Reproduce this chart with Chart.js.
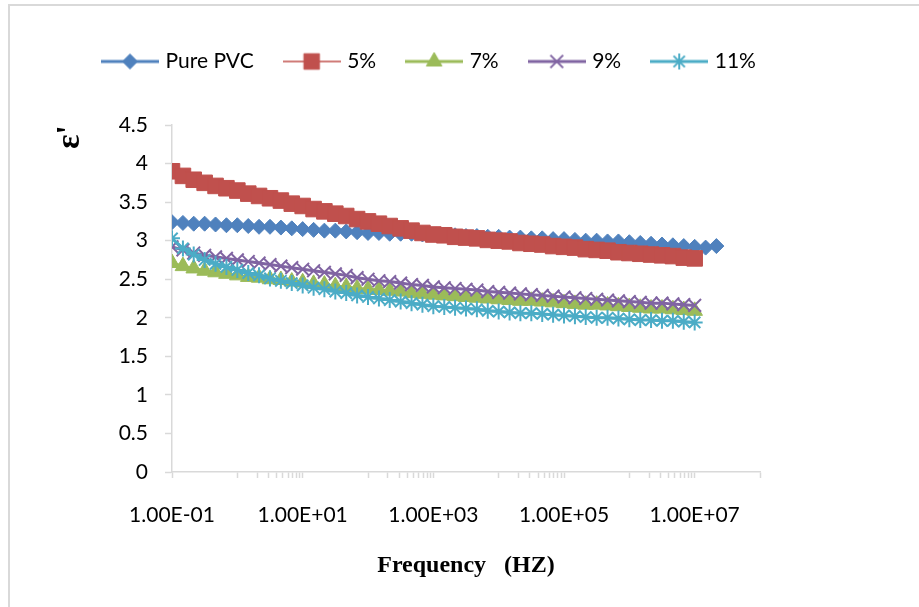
<!DOCTYPE html>
<html>
<head>
<meta charset="utf-8">
<title>Dielectric constant vs frequency</title>
<script src="https://cdn.jsdelivr.net/npm/chart.js@4.4.1/dist/chart.umd.min.js"></script>
<style>
  html, body { margin: 0; padding: 0; background: #fff; }
  #wrap { position: relative; width: 919px; height: 607px; overflow: hidden; }
  #frame { position: absolute; left: 8px; top: 4px; width: 1000px; height: 700px; border: 2px solid #d9d9d9; box-sizing: border-box; }
  #chart { position: absolute; left: 0; top: 0; }
</style>
</head>
<body>
<div id="wrap">
  <div id="frame"></div>
  <canvas id="chart" width="919" height="607"></canvas>
</div>
<script>
// frequencies (Hz)
const freqHz = [
  0.1, 0.147, 0.215, 0.316, 0.464, 0.681,
  1, 1.47, 2.15, 3.16, 4.64, 6.81,
  10, 14.7, 21.5, 31.6, 46.4, 68.1,
  100, 147, 215, 316, 464, 681,
  1000, 1470, 2150, 3160, 4640, 6810,
  10000, 14700, 21500, 31600, 46400, 68100,
  100000, 147000, 215000, 316000, 464000, 681000,
  1000000, 1470000, 2150000, 3160000, 4640000, 6810000,
  10000000, 14700000, 21500000
];

const purePvc = [
  3.24, 3.23, 3.22, 3.22, 3.21, 3.20,
  3.20, 3.19, 3.18, 3.18, 3.17, 3.16,
  3.15, 3.14, 3.13, 3.13, 3.12, 3.11,
  3.10, 3.10, 3.09, 3.09, 3.09, 3.08,
  3.08, 3.07, 3.07, 3.06, 3.06, 3.05,
  3.05, 3.04, 3.04, 3.03, 3.03, 3.02,
  3.02, 3.01, 3.00, 3.00, 2.99, 2.99,
  2.98, 2.97, 2.96, 2.95, 2.94, 2.93,
  2.92, 2.91, 2.93
];
const pvc5 = [
  3.90, 3.84, 3.79, 3.75, 3.71, 3.68,
  3.65, 3.61, 3.58, 3.55, 3.52, 3.48,
  3.45, 3.41, 3.38, 3.35, 3.32, 3.28,
  3.25, 3.22, 3.19, 3.16, 3.13, 3.10,
  3.08, 3.07, 3.05, 3.04, 3.03, 3.01,
  3.00, 2.99, 2.97, 2.96, 2.95, 2.93,
  2.92, 2.91, 2.89, 2.88, 2.87, 2.85,
  2.84, 2.83, 2.82, 2.81, 2.80, 2.78,
  2.77
];
const pvc7 = [
  2.71, 2.67, 2.64, 2.61, 2.59, 2.57,
  2.55, 2.53, 2.52, 2.50, 2.49, 2.47,
  2.46, 2.44, 2.43, 2.41, 2.40, 2.38,
  2.37, 2.36, 2.35, 2.34, 2.32, 2.31,
  2.30, 2.29, 2.28, 2.27, 2.26, 2.25,
  2.24, 2.23, 2.22, 2.22, 2.21, 2.20,
  2.19, 2.18, 2.17, 2.17, 2.16, 2.15,
  2.14, 2.13, 2.12, 2.12, 2.11, 2.10,
  2.09
];
const pvc9 = [
  2.92, 2.88, 2.84, 2.81, 2.79, 2.77,
  2.75, 2.73, 2.71, 2.69, 2.67, 2.65,
  2.63, 2.61, 2.59, 2.57, 2.55, 2.52,
  2.50, 2.48, 2.47, 2.45, 2.43, 2.42,
  2.40, 2.39, 2.38, 2.37, 2.36, 2.34,
  2.33, 2.32, 2.31, 2.30, 2.29, 2.28,
  2.27, 2.26, 2.25, 2.24, 2.23, 2.22,
  2.21, 2.20, 2.19, 2.19, 2.18, 2.17,
  2.16
];
const pvc11 = [
  3.03, 2.90, 2.82, 2.75, 2.70, 2.66,
  2.62, 2.58, 2.55, 2.51, 2.48, 2.45,
  2.42, 2.39, 2.37, 2.34, 2.32, 2.29,
  2.27, 2.25, 2.23, 2.21, 2.19, 2.17,
  2.15, 2.14, 2.13, 2.12, 2.11, 2.09,
  2.08, 2.07, 2.06, 2.06, 2.05, 2.04,
  2.03, 2.02, 2.01, 2.00, 2.00, 1.99,
  1.98, 1.97, 1.97, 1.96, 1.96, 1.95,
  1.94
];

const seriesNames = ['Pure PVC', '5%', '7%', '9%', '11%'];
const xTickValues = [0.1, 10, 1000, 100000, 10000000];
const xTickLabels = ['1.00E-01', '1.00E+01', '1.00E+03', '1.00E+05', '1.00E+07'];

function points(values) {
  return values.map((v, i) => ({ x: freqHz[i], y: v }));
}

// excel style log ticks: majors every 2 decades, minors 1..9 x 10^(even)
function buildXTicks() {
  const list = [0.1];
  for (let e = 0; e <= 6; e += 2) {
    for (let k = 1; k <= 9; k++) list.push(k * Math.pow(10, e));
    list.push(Math.pow(10, e + 1));
  }
  list.push(1e8);
  return list;
}

function xLabel(v) {
  const i = xTickValues.findIndex(t => Math.abs(Math.log10(t) - Math.log10(v)) < 1e-9);
  return i >= 0 ? xTickLabels[i] : '';
}

// line + marker icon for the legend
function legendIcon(color, style, radius, lineWidth, pointBorder) {
  const c = document.createElement('canvas');
  c.width = 58; c.height = 24;
  const g = c.getContext('2d');
  g.strokeStyle = color;
  g.fillStyle = color;
  g.lineWidth = lineWidth;
  g.beginPath(); g.moveTo(0, 12); g.lineTo(58, 12); g.stroke();
  g.lineWidth = pointBorder;
  Chart.helpers.drawPoint(g, { pointStyle: style, radius: radius, rotation: 0, borderWidth: pointBorder }, 29, 12);
  return c;
}

const datasets = [
  { label: seriesNames[0], data: points(purePvc), borderColor: '#4F81BD', backgroundColor: '#4F81BD',
    borderWidth: 3, pointStyle: 'rectRot', pointRadius: 7.5, pointBorderWidth: 1, order: 5 },
  { label: seriesNames[1], data: points(pvc5), borderColor: '#C0504D', backgroundColor: '#C0504D',
    borderWidth: 1.5, pointStyle: 'rect', pointRadius: 11, pointBorderWidth: 1, order: 4 },
  { label: seriesNames[2], data: points(pvc7), borderColor: '#9BBB59', backgroundColor: '#9BBB59',
    borderWidth: 3, pointStyle: 'triangle', pointRadius: 9, pointBorderWidth: 1, order: 3 },
  { label: seriesNames[3], data: points(pvc9), borderColor: '#8064A2', backgroundColor: '#8064A2',
    borderWidth: 3, pointStyle: 'crossRot', pointRadius: 9, pointBorderWidth: 2, order: 2 },
  { label: seriesNames[4], data: points(pvc11), borderColor: '#4BACC6', backgroundColor: '#4BACC6',
    borderWidth: 3, pointStyle: 'star', pointRadius: 8, pointBorderWidth: 2, order: 1 }
];

const icons = datasets.map(ds =>
  legendIcon(ds.borderColor, ds.pointStyle, ds.pointRadius, ds.borderWidth, Math.max(ds.pointBorderWidth, 1)));

// legend sits left of centre and leaves a gap above the plot
const legendPlacement = {
  id: 'legendPlacement',
  beforeInit(chart) {
    const fit = chart.legend.fit;
    chart.legend.fit = function () {
      fit.call(this);
      this.height += 43;
    };
  },
  afterLayout(chart) {
    chart.legend.left = 72;
    chart.legend.right = 919;
  }
};

Chart.defaults.font.family = 'Lato';

new Chart(document.getElementById('chart'), {
  type: 'line',
  data: { datasets: datasets },
  options: {
    responsive: false,
    animation: false,
    events: [],
    layout: { padding: { left: 8, right: 159, top: 18, bottom: 0 } },
    elements: { line: { tension: 0 } },
    plugins: {
      tooltip: { enabled: false },
      legend: {
        position: 'top',
        align: 'start',
        labels: {
          usePointStyle: true,
          pointStyleWidth: 50,
          padding: 33,
          color: '#000',
          font: { size: 21 },
          generateLabels: chart => chart.data.datasets.map((ds, i) => ({
            text: ds.label,
            pointStyle: icons[i],
            fillStyle: ds.borderColor,
            strokeStyle: ds.borderColor,
            lineWidth: 0,
            fontColor: '#000',
            hidden: false,
            datasetIndex: i
          }))
        }
      }
    },
    scales: {
      x: {
        type: 'logarithmic',
        min: 0.1,
        max: 1e8,
        afterBuildTicks: scale => { scale.ticks = buildXTicks().map(v => ({ value: v })); },
        afterFit: scale => { scale.height = 135; },
        ticks: { autoSkip: false, maxRotation: 0, minRotation: 0, padding: 25, color: '#000',
                 font: { size: 21 }, callback: v => xLabel(v) },
        grid: { drawOnChartArea: false, tickLength: 6, tickColor: '#d9d9d9', tickWidth: 1.5 },
        border: { color: '#d9d9d9', width: 1.5 },
        title: { display: true, text: 'Frequency   (HZ)', color: '#000',
                 font: { family: 'Liberation Serif', size: 24, weight: 'bold' },
                 padding: { top: 0, bottom: 27 } }
      },
      y: {
        type: 'linear',
        min: 0,
        max: 4.5,
        afterFit: scale => { scale.width = 164; },
        ticks: { stepSize: 0.5, padding: 17, color: '#000', font: { size: 21 }, callback: v => String(v) },
        grid: { drawOnChartArea: false, tickLength: 7, tickColor: '#d9d9d9', tickWidth: 1.5 },
        border: { color: '#d9d9d9', width: 1.5 },
        title: { display: true, text: "ε'", align: 'end', color: '#000',
                 font: { family: 'Liberation Serif', size: 34, weight: 'bold' },
                 padding: { top: 42, bottom: 0 } }
      }
    }
  },
  plugins: [legendPlacement]
});
</script>
</body>
</html>
